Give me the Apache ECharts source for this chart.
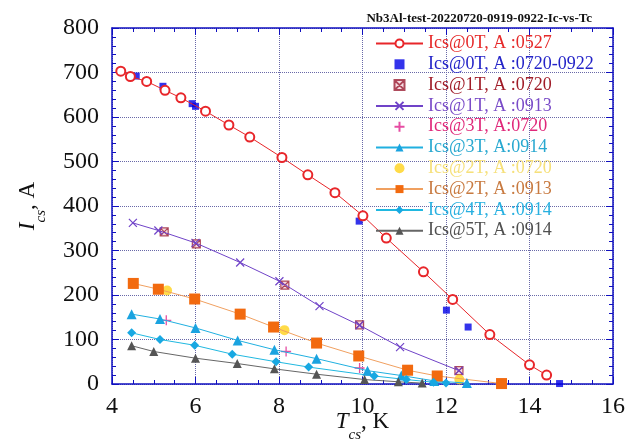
<!DOCTYPE html>
<html>
<head>
<meta charset="utf-8">
<script src="https://cdn.jsdelivr.net/npm/echarts@6/dist/echarts.min.js"></script>
<style>
  html, body { margin: 0; padding: 0; background: #fff; }
  #chart { width: 626px; height: 442px; }
</style>
</head>
<body>
<div id="chart"></div>
<script>
// 数据：[Tcs (K), Ics (A)]
const ics0T_0527 = [[4.21, 703], [4.44, 691], [4.83, 680], [5.27, 660], [5.65, 643], [6.24, 613], [6.80, 582],
  [7.30, 555], [8.07, 509], [8.69, 470], [9.34, 430], [10.01, 378], [10.57, 328], [11.46, 252], [12.16, 190],
  [13.05, 111], [14.0, 43], [14.41, 20]];
const ics0T_0720_0922 = [[4.58, 692], [5.22, 669], [5.92, 630], [6.0, 624], [8.07, 509], [9.92, 366],
  [12.01, 166], [12.53, 128], [14.72, 1]];
const ics1T_0720 = [[5.25, 342], [6.02, 315], [8.14, 222], [9.93, 133], [12.31, 30]];
const ics1T_0913 = [[4.50, 362], [5.11, 345], [6.0, 317], [7.07, 273], [8.01, 231], [8.97, 175], [9.93, 132],
  [10.90, 83], [12.31, 30]];
const ics3T_0720 = [[5.30, 143], [8.17, 73], [9.93, 36]];
const ics3T_0914 = [[4.47, 157], [5.15, 146], [6.0, 126], [7.01, 98], [7.89, 77], [8.90, 57], [10.12, 30],
  [10.93, 19], [11.72, 7], [12.50, 2]];
const ics2T_0720 = [[5.32, 210], [8.13, 121], [12.32, 10]];
const ics2T_0913 = [[4.51, 226], [5.11, 213], [5.98, 191], [7.07, 157], [7.87, 128], [8.90, 92], [9.91, 63],
  [11.08, 31], [11.79, 18], [13.33, 1]];
const ics4T_0914 = [[4.47, 115], [5.15, 100], [5.98, 87], [6.88, 67], [7.93, 50], [8.71, 38], [10.28, 18],
  [11.05, 10], [11.70, 4], [12.0, 2]];
const ics5T_0914 = [[4.47, 86], [5.0, 73], [6.0, 58], [7.0, 46], [7.89, 34], [8.90, 22], [10.05, 10],
  [10.86, 5], [11.43, 2]];

const seriesNames = ['Ics@0T, A :0527', 'Ics@0T, A :0720-0922', 'Ics@1T, A :0720', 'Ics@1T, A :0913',
  'Ics@3T, A:0720', 'Ics@3T, A:0914', 'Ics@2T, A :0720', 'Ics@2T, A :0913', 'Ics@4T, A :0914', 'Ics@5T, A :0914'];
const legendColors = ['#e62a2a', '#2424c8', '#a01c28', '#7a4cc8', '#e0287a', '#28a8d0', '#f6e07a', '#c87a40',
  '#28b0e0', '#505050'];

const serif = '"Liberation Serif", "Times New Roman", serif';
const squarePath = 'path://M0,0L10,0L10,10L0,10Z';
const crossPath = 'path://M0,0L10,10M10,0L0,10';
const plusPath = 'path://M5,0L5,10M0,5L10,5';
const boxXPath = 'path://M0,0L10,0L10,10L0,10ZM0,0L10,10M10,0L0,10';

const chart = echarts.init(document.getElementById('chart'));

function lineSeries(name, data, color, lineColor, symbol, size, extra) {
  return Object.assign({
    name: name,
    type: 'line',
    data: data,
    symbol: symbol,
    symbolSize: size,
    symbolKeepAspect: true,
    showAllSymbol: true,
    lineStyle: { color: lineColor, width: 1 },
    itemStyle: { color: color },
    animation: false
  }, extra || {});
}

function scatterSeries(name, data, symbol, size, itemStyle) {
  return {
    name: name,
    type: 'scatter',
    data: data,
    symbol: symbol,
    symbolSize: size,
    symbolKeepAspect: true,
    itemStyle: itemStyle,
    animation: false
  };
}

const axisBlue = '#1010c0';
const gridStyle = { show: true, lineStyle: { color: '#6868a8', type: 'dotted', width: 1 } };
const nameRich = {
  i: { fontFamily: serif, fontSize: 23, fontStyle: 'italic', color: '#111', lineHeight: 26, verticalAlign: 'top' },
  s: { fontFamily: serif, fontSize: 15, fontStyle: 'italic', color: '#111', lineHeight: 15, padding: [18, 0, 0, 0], verticalAlign: 'top' },
  n: { fontFamily: serif, fontSize: 23, color: '#111', lineHeight: 26, verticalAlign: 'top' }
};

const option = {
  backgroundColor: '#fff',
  textStyle: { fontFamily: serif },
  title: {
    text: 'Nb3Al-test-20220720-0919-0922-Ic-vs-Tc',
    right: 29,
    top: 7,
    textStyle: { fontFamily: serif, fontSize: 13, fontWeight: 'bold', color: '#111' }
  },
  grid: { left: 112, right: 13, top: 28, bottom: 58, containLabel: false, outerBoundsMode: 'none' },
  legend: {
    orient: 'vertical',
    left: 370,
    top: 29,
    itemWidth: 47,
    itemHeight: 10,
    itemGap: 1.8,
    symbolKeepAspect: true,
    textStyle: { fontFamily: serif, fontSize: 18, lineHeight: 19 },
    data: seriesNames.map((n, i) => ({ name: n, textStyle: { color: legendColors[i] } }))
  },
  xAxis: [
    {
      type: 'value', min: 4, max: 16, interval: 2,
      name: '{i|T}{s|cs}{n|, K}',
      nameLocation: 'middle',
      nameGap: 26,
      nameMoveOverlap: false,
      nameTextStyle: { rich: nameRich },
      axisLine: { show: true, onZero: false, lineStyle: { color: axisBlue, width: 1.5 } },
      axisTick: { show: true, inside: true, length: 7, lineStyle: { color: axisBlue } },
      minorTick: { show: true, splitNumber: 4, length: 4, lineStyle: { color: axisBlue } },
      axisLabel: { fontFamily: serif, fontSize: 24, color: '#111', margin: 11 },
      splitLine: gridStyle
    },
    {
      type: 'value', min: 4, max: 16, interval: 2, position: 'top',
      axisLine: { show: true, onZero: false, lineStyle: { color: axisBlue, width: 1.5 } },
      axisTick: { show: true, inside: true, length: 7, lineStyle: { color: axisBlue } },
      minorTick: { show: true, splitNumber: 4, length: 4, lineStyle: { color: axisBlue } },
      axisLabel: { show: false },
      splitLine: { show: false }
    }
  ],
  yAxis: [
    {
      type: 'value', min: 0, max: 800, interval: 100,
      name: '{i|I}{s|cs}{n|, A}',
      nameLocation: 'middle',
      nameRotate: 90,
      nameGap: 70,
      nameTextStyle: { rich: nameRich },
      axisLine: { show: true, onZero: false, lineStyle: { color: axisBlue, width: 1.5 } },
      axisTick: { show: true, inside: true, length: 7, lineStyle: { color: axisBlue } },
      minorTick: { show: true, splitNumber: 5, length: 4, lineStyle: { color: axisBlue } },
      axisLabel: { fontFamily: serif, fontSize: 24, color: '#111', margin: 13, padding: [0, 0, 7, 0] },
      splitLine: gridStyle
    },
    {
      type: 'value', min: 0, max: 800, interval: 100, position: 'right',
      axisLine: { show: true, onZero: false, lineStyle: { color: axisBlue, width: 1.5 } },
      axisTick: { show: true, inside: true, length: 7, lineStyle: { color: axisBlue } },
      minorTick: { show: true, splitNumber: 5, length: 4, lineStyle: { color: axisBlue } },
      axisLabel: { show: false },
      splitLine: { show: false }
    }
  ],
  series: [
    lineSeries(seriesNames[0], ics0T_0527, '#e8262a', '#e8262a', 'emptyCircle', 9,
      { itemStyle: { color: '#e8262a', borderWidth: 1.3 } }),
    scatterSeries(seriesNames[1], ics0T_0720_0922, squarePath, 7, { color: '#0000e6' }),
    scatterSeries(seriesNames[2], ics1T_0720, boxXPath, 8,
      { color: '#f4d4dc', borderColor: '#9b1f35', borderWidth: 1.2 }),
    lineSeries(seriesNames[3], ics1T_0913, 'rgba(0,0,0,0)', '#7043c8', crossPath, 8,
      { itemStyle: { color: 'rgba(0,0,0,0)', borderColor: '#7043c8', borderWidth: 1.2 } }),
    scatterSeries(seriesNames[4], ics3T_0720, plusPath, 10,
      { color: 'rgba(0,0,0,0)', borderColor: '#e0208c', borderWidth: 1.3 }),
    lineSeries(seriesNames[5], ics3T_0914, '#1aa3e0', '#20b0e0', 'triangle', 10),
    scatterSeries(seriesNames[6], ics2T_0720, 'circle', 10, { color: '#ffd21a' }),
    lineSeries(seriesNames[7], ics2T_0913, '#f26a0f', '#f0a060', 'rect', 11),
    lineSeries(seriesNames[8], ics4T_0914, '#18a8e2', '#20b8e0', 'diamond', 9),
    lineSeries(seriesNames[9], ics5T_0914, '#555555', '#666666', 'triangle', 9)
  ]
};

chart.setOption(option);
</script>
</body>
</html>
